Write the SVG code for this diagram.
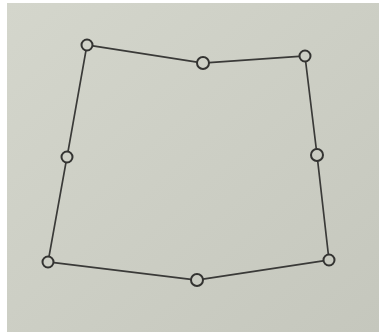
<svg xmlns="http://www.w3.org/2000/svg" width="379" height="332" viewBox="0 0 379 332">
  <defs>
    <linearGradient id="paper" x1="0" y1="0" x2="1" y2="1">
      <stop offset="0" stop-color="#d4d6cc"/>
      <stop offset="1" stop-color="#c5c7bd"/>
    </linearGradient>
    <style>
      .edge { stroke: #3a3a38; stroke-width: 1.7; stroke-linecap: round; fill: none; }
      .node circle { fill: none; stroke: #333331; stroke-width: 2; }
    </style>
  </defs>
  <rect x="0" y="0" width="379" height="332" fill="#ffffff"/>
  <rect x="7" y="3" width="372" height="329" fill="url(#paper)"/>
  <g id="connectors">
    <line class="edge" x1="92.9" y1="45.9" x2="197.1" y2="62.1"/>
    <line class="edge" x1="209" y1="62.6" x2="299" y2="56.4"/>
    <line class="edge" x1="305.7" y1="62" x2="316.3" y2="149"/>
    <line class="edge" x1="317.7" y1="161" x2="328.3" y2="254"/>
    <line class="edge" x1="323.1" y1="260.9" x2="202.9" y2="279.1"/>
    <line class="edge" x1="191" y1="279.3" x2="54" y2="262.7"/>
    <line class="edge" x1="49.1" y1="256.1" x2="65.9" y2="162.9"/>
    <line class="edge" x1="68.1" y1="151.1" x2="85.9" y2="50.9"/>
  </g>
  <g id="node-top-left" class="node"><circle cx="87" cy="45" r="5.5"/></g>
  <g id="node-top-mid" class="node"><circle cx="203" cy="63" r="6"/></g>
  <g id="node-top-right" class="node"><circle cx="305" cy="56" r="5.5"/></g>
  <g id="node-right-mid" class="node"><circle cx="317" cy="155" r="6"/></g>
  <g id="node-bottom-right" class="node"><circle cx="329" cy="260" r="5.5"/></g>
  <g id="node-bottom-mid" class="node"><circle cx="197" cy="280" r="6"/></g>
  <g id="node-bottom-left" class="node"><circle cx="48" cy="262" r="5.5"/></g>
  <g id="node-left-mid" class="node"><circle cx="67" cy="157" r="5.5"/></g>
</svg>
